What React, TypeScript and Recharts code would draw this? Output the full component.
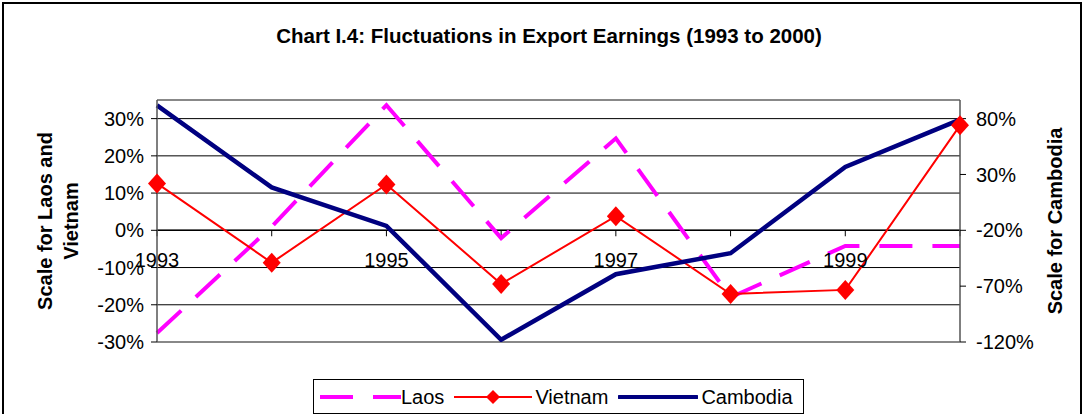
import {
  LineChart,
  Line,
  XAxis,
  YAxis,
  CartesianGrid,
  ReferenceLine,
} from 'recharts'

const years = ['1993', '1994', '1995', '1996', '1997', '1998', '1999', '2000']
const labeledYears = ['1993', '1995', '1997', '1999']
const laos = [-0.276, 0.01, 0.336, -0.021, 0.247, -0.18, -0.042, -0.042]
const vietnam = [0.126, -0.087, 0.123, -0.144, 0.038, -0.171, -0.16, 0.282]
const cambodia = [0.919, 0.184, -0.16, -1.18, -0.593, -0.405, 0.368, 0.791]
const leftTicks = [-0.3, -0.2, -0.1, 0, 0.1, 0.2, 0.3]
const rightTicks = [-1.2, -0.7, -0.2, 0.3, 0.8]

const data = years.map((year, i) => ({
  year,
  laos: laos[i],
  vietnam: vietnam[i],
  cambodia: cambodia[i],
}))

const FONT = '"Liberation Sans", Arial, sans-serif'
const pct = (v: number) => `${Math.round(v * 100)}%`

function Diamond({ cx, cy }: any) {
  if (cx == null || cy == null) return null
  return (
    <polygon
      points={`${cx},${cy - 10} ${cx + 9},${cy} ${cx},${cy + 10} ${cx - 9},${cy}`}
      fill="#FF0000"
    />
  )
}

function LeftTitle({ viewBox }: any) {
  const cy = viewBox.y + viewBox.height / 2
  const x1 = viewBox.x + 45
  const x2 = viewBox.x + 71
  return (
    <g fontFamily={FONT} fontWeight="bold" fontSize={20} fill="#000">
      <text x={x1} y={cy} textAnchor="middle" dominantBaseline="central" transform={`rotate(-90 ${x1} ${cy})`}>
        Scale for Laos and
      </text>
      <text x={x2} y={cy} textAnchor="middle" dominantBaseline="central" transform={`rotate(-90 ${x2} ${cy})`}>
        Vietnam
      </text>
    </g>
  )
}

function RightTitle({ viewBox }: any) {
  const cy = viewBox.y + viewBox.height / 2
  const x = viewBox.x + 95
  return (
    <text
      x={x}
      y={cy}
      textAnchor="middle"
      dominantBaseline="central"
      fontFamily={FONT}
      fontWeight="bold"
      fontSize={20}
      fill="#000"
      transform={`rotate(-90 ${x} ${cy})`}
    >
      Scale for Cambodia
    </text>
  )
}

function LegendBox() {
  const txt = { fontSize: 20, color: '#000', fontFamily: FONT, lineHeight: '20px' }
  return (
    <div
      style={{
        position: 'absolute',
        left: 313,
        top: 379,
        border: '1.5px solid #000',
        height: 35,
        width: 491,
        display: 'flex',
        alignItems: 'center',
        boxSizing: 'border-box',
        paddingLeft: 5,
        background: '#fff',
      }}
    >
      <svg width={82} height={20}>
        <line x1={1} y1={10} x2={82} y2={10} stroke="#FF00FF" strokeWidth={4} strokeDasharray="33 20" />
      </svg>
      <span style={{ ...txt, marginRight: 10 }}>Laos</span>
      <svg width={78} height={20}>
        <line x1={0} y1={10} x2={78} y2={10} stroke="#FF0000" strokeWidth={2} />
        <polygon points="39,3 46,10 39,17 32,10" fill="#FF0000" />
      </svg>
      <span style={{ ...txt, marginLeft: 3, marginRight: 10 }}>Vietnam</span>
      <svg width={80} height={20}>
        <line x1={1} y1={10} x2={79} y2={10} stroke="#000080" strokeWidth={4} strokeLinecap="round" />
      </svg>
      <span style={{ ...txt, marginLeft: 3 }}>Cambodia</span>
    </div>
  )
}

export default function App() {
  return (
    <div
      style={{
        position: 'absolute',
        left: 0,
        top: 0,
        width: 1084,
        height: 414,
        background: '#fff',
        overflow: 'hidden',
        fontFamily: FONT,
      }}
    >
      <div
        style={{
          position: 'absolute',
          left: 2,
          top: 2,
          width: 1076,
          height: 440,
          border: '2px solid #000',
        }}
      />
      <div
        style={{
          position: 'absolute',
          left: 7,
          top: 24,
          width: 1084,
          textAlign: 'center',
          fontWeight: 'bold',
          fontSize: 20.5,
          color: '#000',
        }}
      >
        Chart I.4: Fluctuations in Export Earnings (1993 to 2000)
      </div>
      <LineChart
        width={1084}
        height={414}
        data={data}
        margin={{ top: 100, right: 0, bottom: 72, left: 0 }}
        style={{ position: 'absolute', left: 0, top: 0 }}
      >
        <CartesianGrid yAxisId="left" vertical={false} stroke="#000" strokeWidth={1} />
        <XAxis dataKey="year" hide />
        <YAxis
          yAxisId="left"
          width={157}
          domain={[-0.3, 0.35]}
          ticks={leftTicks}
          tickFormatter={pct}
          tick={{ fill: '#000', fontSize: 20, fontFamily: FONT, dx: -5 }}
          tickSize={6}
          tickLine={{ stroke: '#000' }}
          axisLine={{ stroke: '#555', strokeWidth: 1.5 }}
          interval={0}
          allowDataOverflow
          label={{ content: LeftTitle }}
        />
        <YAxis
          yAxisId="right"
          orientation="right"
          width={124}
          domain={[-1.2, 0.9667]}
          ticks={rightTicks}
          tickFormatter={pct}
          tick={{ fill: '#000', fontSize: 20, fontFamily: FONT, dx: 8 }}
          tickSize={6}
          tickLine={{ stroke: '#000' }}
          axisLine={{ stroke: '#555', strokeWidth: 1.5 }}
          interval={0}
          allowDataOverflow
          label={{ content: RightTitle }}
        />
        <ReferenceLine yAxisId="left" y={0.35} stroke="#888" strokeWidth={2} />
        <ReferenceLine yAxisId="left" y={-0.3} stroke="#888" strokeWidth={2} />
        <ReferenceLine yAxisId="left" y={0} stroke="#000" strokeWidth={1.5} />
        {years.map((yr) => (
          <ReferenceLine
            key={yr}
            yAxisId="left"
            segment={[
              { x: yr, y: 0 },
              { x: yr, y: -0.016 },
            ]}
            stroke="#000"
            label={
              labeledYears.includes(yr)
                ? { value: yr, position: 'bottom', offset: 17, fill: '#000', fontSize: 20, fontFamily: FONT }
                : undefined
            }
          />
        ))}
        <Line
          yAxisId="left"
          dataKey="laos"
          stroke="#FF00FF"
          strokeWidth={4}
          strokeDasharray="33 20"
          dot={false}
          isAnimationActive={false}
        />
        <Line
          yAxisId="left"
          dataKey="vietnam"
          stroke="#FF0000"
          strokeWidth={2}
          dot={<Diamond />}
          isAnimationActive={false}
        />
        <Line
          yAxisId="right"
          dataKey="cambodia"
          stroke="#000080"
          strokeWidth={4.5}
          dot={false}
          isAnimationActive={false}
        />
      </LineChart>
      <LegendBox />
    </div>
  )
}
